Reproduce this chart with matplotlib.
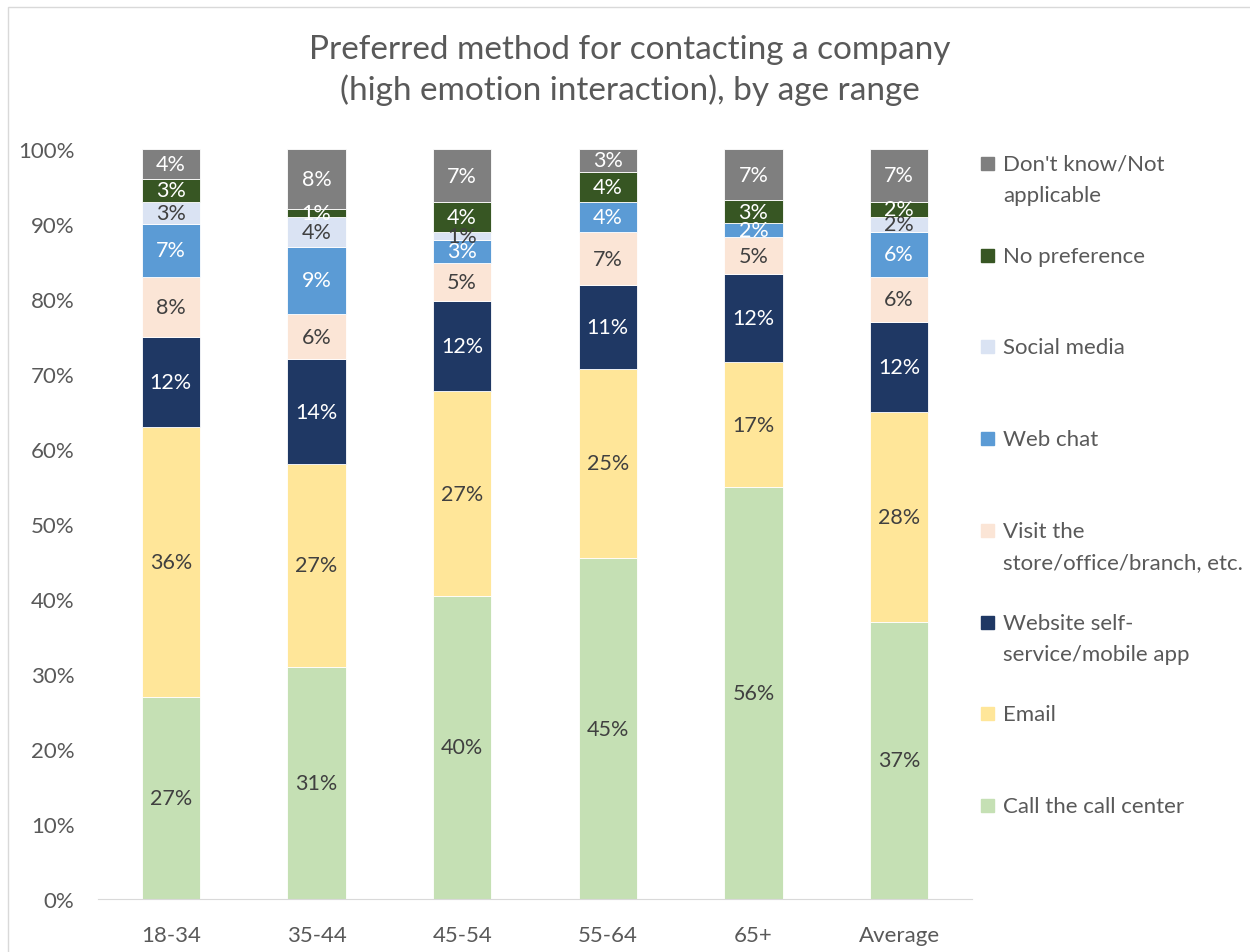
import numpy as np
import matplotlib.pyplot as plt
from matplotlib.patches import Rectangle

plt.rcParams['font.family'] = ['Lato', 'DejaVu Sans']

# raw shares per age range (Excel 100% stacked normalises each column)
age_ranges = ["18-34", "35-44", "45-54", "55-64", "65+", "Average"]

call_center = [27, 31, 40, 45, 56, 37]
email = [36, 27, 27, 25, 17, 28]
website_app = [12, 14, 12, 11, 12, 12]
visit_store = [8, 6, 5, 7, 5, 6]
web_chat = [7, 9, 3, 4, 2, 6]
social_media = [3, 4, 1, 0, 0, 2]
no_preference = [3, 1, 4, 4, 3, 2]
dont_know = [4, 8, 7, 3, 7, 7]

series_names = [
    "Call the call center",
    "Email",
    "Website self-\nservice/mobile app",
    "Visit the\nstore/office/branch, etc.",
    "Web chat",
    "Social media",
    "No preference",
    "Don't know/Not\napplicable",
]
series_values = [call_center, email, website_app, visit_store,
                 web_chat, social_media, no_preference, dont_know]
colors = ["#C5E0B4", "#FFE699", "#1F3864", "#FBE5D6",
          "#5B9BD5", "#DAE3F3", "#375623", "#7F7F7F"]
label_colors = ["#404040", "#404040", "white", "#404040",
                "white", "#404040", "white", "white"]

text_gray = "#595959"

data = np.array(series_values, dtype=float)
shares = data / data.sum(axis=0)

fig = plt.figure(figsize=(12.5, 9.53), dpi=100)
ax = fig.add_axes([0.0784, 0.0556, 0.6992, 0.787])

x = np.arange(len(age_ranges))
bottom = np.zeros(len(age_ranges))
for i in range(len(series_names)):
    ax.bar(x, shares[i], bottom=bottom, width=0.4, color=colors[i],
           edgecolor="white", linewidth=0.6)
    for j in range(len(age_ranges)):
        if data[i, j] > 0:
            ax.text(x[j], bottom[j] + shares[i, j] / 2,
                    "%d%%" % data[i, j], ha="center", va="center",
                    fontsize=15.5, color=label_colors[i])
    bottom += shares[i]

ax.set_xlim(-0.5, len(age_ranges) - 0.5)
ax.set_ylim(0, 1)
ax.set_yticks(np.arange(0, 1.01, 0.1))
ax.set_yticklabels(["%d%%" % v for v in range(0, 101, 10)])
ax.set_xticks(x)
ax.set_xticklabels(age_ranges)
ax.tick_params(axis="both", length=0, labelsize=16, colors=text_gray)
ax.tick_params(axis="y", pad=17)
ax.tick_params(axis="x", pad=19)
for side in ["top", "right", "left"]:
    ax.spines[side].set_visible(False)
ax.spines["bottom"].set_color("#D9D9D9")

fig.text(0.504, 0.926,
         "Preferred method for contacting a company\n(high emotion interaction), by age range",
         ha="center", va="center", fontsize=24, color=text_gray,
         linespacing=1.4)

# legend, top entry first, evenly spaced like Excel
legend_y = np.linspace(1 - 165 / 953, 1 - 807 / 953, len(series_names))
for k, i in enumerate(range(len(series_names) - 1, -1, -1)):
    y = legend_y[k]
    fig.add_artist(Rectangle((981 / 1250, y - 6 / 953), 13 / 1250, 13 / 953,
                             transform=fig.transFigure, color=colors[i]))
    fig.text(1003 / 1250, y + 10 / 953, series_names[i], ha="left", va="top",
             fontsize=16, color=text_gray, linespacing=1.7)

# chart area border
fig.add_artist(Rectangle((8 / 1250, -0.01), 1.1, 1.0016, transform=fig.transFigure,
                         fill=False, edgecolor="#D9D9D9", linewidth=1))

fig.savefig("out.png", dpi=100)
plt.close()
